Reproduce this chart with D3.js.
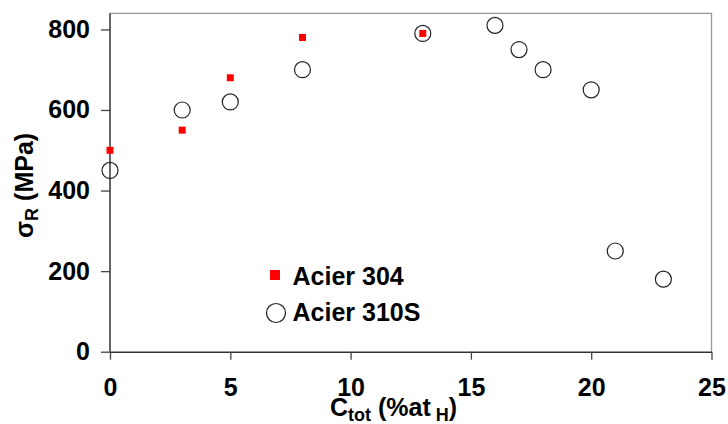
<!DOCTYPE html>
<html><head><meta charset="utf-8">
<script src="https://cdn.jsdelivr.net/npm/d3@7"></script>
<style>body{margin:0;background:#fff}svg{display:block}text{font-family:"Liberation Sans",Arial,sans-serif;font-weight:bold;fill:#000}</style>
</head><body>
<script>
const x304 = [0, 3, 5, 8, 13];
const y304 = [500, 550, 680, 780, 790];
const x310 = [0, 3, 5, 8, 13, 16, 17, 18, 20, 21, 23];
const y310 = [450, 600, 620, 700, 790, 810, 750, 700, 650, 250, 180];
const xTicks = [0, 5, 10, 15, 20, 25];
const yTicks = [0, 200, 400, 600, 800];
const legendLabels = ["Acier 304", "Acier 310S"];

const W = 728, H = 424;
const svg = d3.select("body").append("svg").attr("width", W).attr("height", H);
const x = d3.scaleLinear().domain([0, 25]).range([110, 711.5]);
const y = d3.scaleLinear().domain([0, 840]).range([351.7, 13.3]);

// frame top/right
svg.append("path").attr("d", `M${x(0)},${y(840)}H${x(25)}V${y(0)}`)
  .attr("fill", "none").attr("stroke", "#999").attr("stroke-width", 1.3);

const gx = svg.append("g").attr("transform", `translate(0,${y(0)})`)
  .call(d3.axisBottom(x).tickValues(xTicks).tickSize(8).tickPadding(19).tickSizeOuter(0));
const gy = svg.append("g").attr("transform", `translate(${x(0)},0)`)
  .call(d3.axisLeft(y).tickValues(yTicks).tickSize(9).tickPadding(11).tickSizeOuter(0));
[gx, gy].forEach(g => {
  g.select(".domain").attr("stroke", "#333").attr("stroke-width", 1.5);
  g.selectAll(".tick line").attr("stroke", "#444").attr("stroke-width", 1.3);
  g.selectAll(".tick text").attr("font-size", 25).attr("font-family", '"Liberation Sans",Arial,sans-serif').attr("font-weight", "bold").attr("fill", "#000");
});
gy.select(".domain").attr("d", `M0,${y(0)}V${y(840)}`);

// data
svg.append("g").selectAll("circle").data(x310.map((v, i) => [v, y310[i]])).join("circle")
  .attr("cx", d => x(d[0])).attr("cy", d => y(d[1])).attr("r", 8)
  .attr("fill", "none").attr("stroke", "#222").attr("stroke-width", 1.2);
svg.append("g").selectAll("rect").data(x304.map((v, i) => [v, y304[i]])).join("rect")
  .attr("x", d => x(d[0]) - 3.5).attr("y", d => y(d[1]) - 3.5).attr("width", 7).attr("height", 7)
  .attr("fill", "#ff0000");

// legend
svg.append("rect").attr("x", 270).attr("y", 270).attr("width", 10).attr("height", 10).attr("fill", "#ff0000");
svg.append("circle").attr("cx", 276).attr("cy", 313).attr("r", 9.5).attr("fill", "none").attr("stroke", "#222").attr("stroke-width", 1.2);
svg.append("text").attr("x", 292.5).attr("y", 285).attr("font-size", 25).text(legendLabels[0]);
svg.append("text").attr("x", 292.5).attr("y", 321).attr("font-size", 25).text(legendLabels[1]);

// x title
const xt = svg.append("text").attr("x", 330).attr("y", 416).attr("font-size", 25);
xt.append("tspan").text("C");
xt.append("tspan").attr("font-size", 18).attr("dy", 4.5).text("tot");
xt.append("tspan").attr("dy", -4.5).text(" (%at");
xt.append("tspan").attr("font-size", 18).attr("dy", 4.5).text(" H");
xt.append("tspan").attr("dy", -4.5).text(")");

// y title
const yt = svg.append("text").attr("transform", "translate(33,238) rotate(-90)").attr("font-size", 25);
yt.append("tspan").text("σ");
yt.append("tspan").attr("font-size", 18).attr("dy", 5).text("R");
yt.append("tspan").attr("dy", -5).text(" (MPa)");
</script>
</body></html>
